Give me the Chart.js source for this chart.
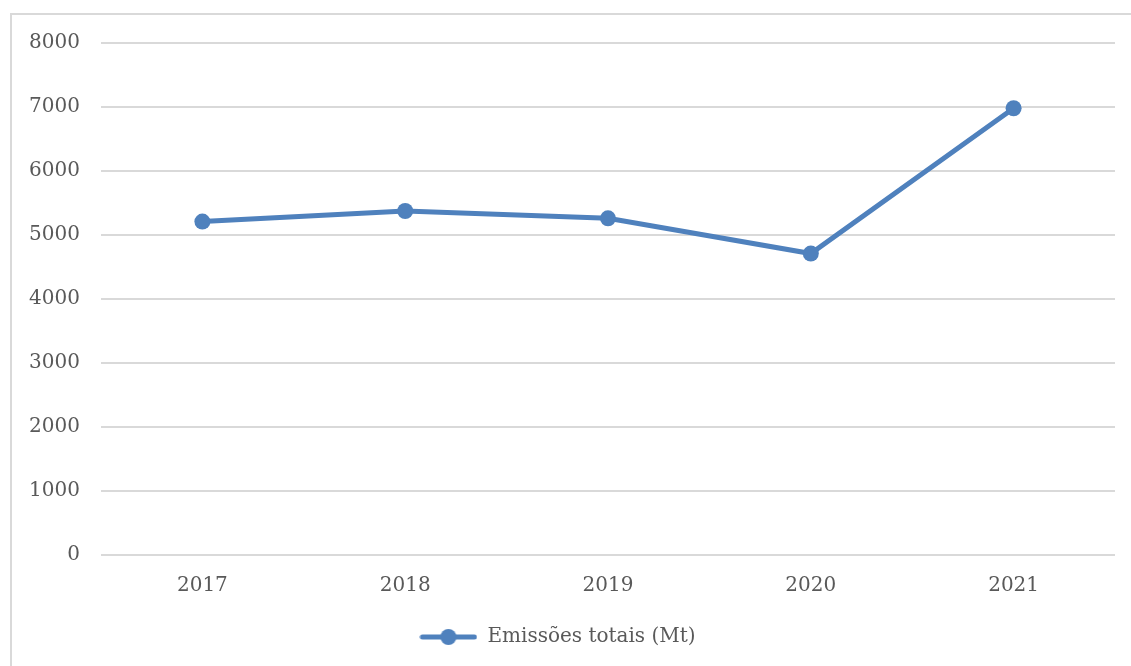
<!DOCTYPE html>
<html>
<head>
<meta charset="utf-8">
<script src="https://cdn.jsdelivr.net/npm/chart.js@4"></script>
<style>
  html, body { margin: 0; padding: 0; background: #fff; overflow: hidden; }
  #frame { position: absolute; left: 10px; top: 13px; width: 1200px; height: 700px; border: 2px solid #d9d9d9; }
  #wrap { position: absolute; left: 0; top: 0; width: 1131px; height: 666px; }
</style>
</head>
<body>
<div id="frame"></div>
<div id="wrap"><canvas id="grafico"></canvas></div>
<script>
const anos = ['2017', '2018', '2019', '2020', '2021'];
const emissoes = [5210, 5375, 5260, 4710, 6980];
const nomeSerie = 'Emissões totais (Mt)';

const AZUL = '#4f81bd';
const FONTE = "'DejaVu Serif', 'Liberation Serif', serif";

// icone da legenda: linha com marcador
const icone = document.createElement('canvas');
icone.width = 58;
icone.height = 20;
(function () {
    const c = icone.getContext('2d');
    c.strokeStyle = AZUL;
    c.lineWidth = 5;
    c.lineCap = 'round';
    c.beginPath();
    c.moveTo(3, 10);
    c.lineTo(55, 10);
    c.stroke();
    c.fillStyle = AZUL;
    c.beginPath();
    c.arc(29, 10, 8, 0, Math.PI * 2);
    c.fill();
})();

const CHART = document.getElementById('grafico');
new Chart(CHART, {
    type: 'line',
    data: {
        labels: anos,
        datasets: [{
            label: nomeSerie,
            data: emissoes,
            borderColor: AZUL,
            backgroundColor: AZUL,
            borderWidth: 5,
            pointRadius: 8,
            pointHoverRadius: 8,
            pointBackgroundColor: AZUL,
            pointBorderWidth: 0,
            tension: 0
        }]
    },
    options: {
        responsive: true,
        maintainAspectRatio: false,
        animation: false,
        layout: { padding: { left: 0, right: 16, top: 43, bottom: 9 } },
        plugins: {
            tooltip: { enabled: false },
            legend: {
                position: 'bottom',
                labels: {
                    usePointStyle: true,
                    pointStyleWidth: 58,
                    color: '#595959',
                    font: { family: FONTE, size: 20 },
                    padding: 5,
                    generateLabels: (chart) => chart.data.datasets.map((ds, i) => ({
                        text: ds.label,
                        pointStyle: icone,
                        fillStyle: AZUL,
                        strokeStyle: AZUL,
                        lineWidth: 0,
                        fontColor: '#595959',
                        datasetIndex: i
                    }))
                }
            }
        },
        scales: {
            x: {
                offset: true,
                afterFit: (scale) => { scale.height = scale.height + 13; },
                grid: { display: false },
                border: { display: false },
                ticks: { color: '#595959', font: { family: FONTE, size: 20 }, padding: 11 }
            },
            y: {
                min: 0,
                max: 8000,
                afterFit: (scale) => { scale.width = 101; },
                ticks: {
                    stepSize: 1000,
                    color: '#595959',
                    font: { family: FONTE, size: 20 },
                    padding: 21,
                    callback: (v) => String(v)
                },
                grid: { color: '#d9d9d9', lineWidth: 2, drawTicks: false },
                border: { display: false }
            }
        }
    }
});
</script>
</body>
</html>
